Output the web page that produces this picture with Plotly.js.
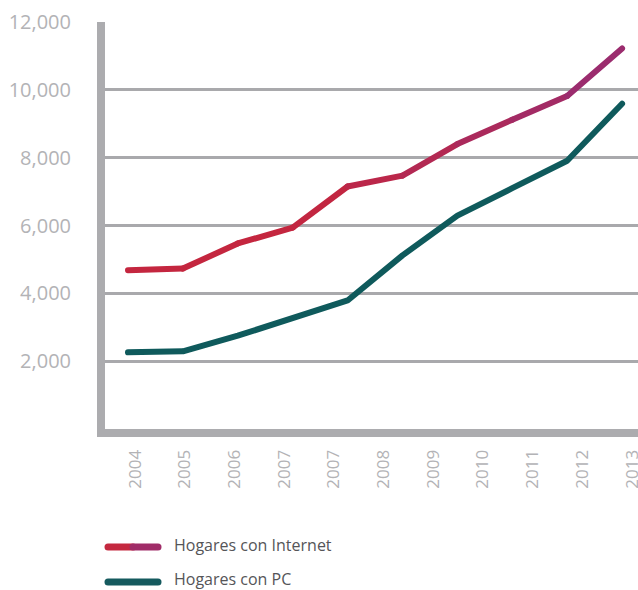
<!DOCTYPE html>
<html>
<head>
<meta charset="utf-8">
<script src="https://cdn.plot.ly/plotly-3.0.1.min.js"></script>
<style>
html,body{margin:0;padding:0;background:#fff;}
path.js-line{stroke-linejoin:round;stroke-linecap:round;}
.shapelayer path{stroke-linecap:round;}
</style>
</head>
<body>
<div id="chart" style="width:638px;height:590px;"></div>
<script>
// Data
var years = [2004, 2005, 2006, 2007, 2008, 2009, 2010, 2011, 2012, 2013];
var internet = [4680, 4730, 5470, 5940, 7150, 7470, 8400, 9120, 9820, 11220];
var pc = [2260, 2290, 2750, 3270, 3790, 5120, 6290, 7100, 7910, 9590];
var tickLabels = ['2004', '2005', '2006', '2007', '2007', '2008', '2009', '2010', '2011', '2012', '2013'];
var yTicks = [2000, 4000, 6000, 8000, 10000, 12000];
var seriesNames = ['Hogares con Internet', 'Hogares con PC'];

function mix(c1, c2, t) {
  var a = [parseInt(c1.substr(1,2),16), parseInt(c1.substr(3,2),16), parseInt(c1.substr(5,2),16)];
  var b = [parseInt(c2.substr(1,2),16), parseInt(c2.substr(3,2),16), parseInt(c2.substr(5,2),16)];
  return 'rgb(' + a.map(function(v,i){return Math.round(v + (b[i]-v)*t);}).join(',') + ')';
}

var redStart = '#c4263f', redEnd = '#9b2c6e';
var pcColor = '#0f5a5c';
var traces = [];
// internet line as gradient segments
for (var i = 0; i < years.length - 1; i++) {
  var t = i / (years.length - 2);
  t = Math.max(0, (t - 0.35) / 0.65);
  traces.push({
    x: [years[i], years[i+1]], y: [internet[i], internet[i+1]],
    xaxis: 'x2', yaxis: 'y', mode: 'lines', showlegend: false, hoverinfo: 'skip',
    line: {color: mix(redStart, redEnd, t), width: 6}
  });
}
traces.push({
  x: years, y: pc, xaxis: 'x2', yaxis: 'y', mode: 'lines', showlegend: false,
  name: seriesNames[1], line: {color: pcColor, width: 6}
});
// dummy trace for label axis
traces.push({x: [0, 10], y: [null, null], xaxis: 'x', yaxis: 'y', mode: 'lines', showlegend: false, hoverinfo: 'skip'});

var L = 105, R = 638, T = 22, B = 429;
var W = R - L, H = B - T;
function px(x){ return (x - L) / W; }
function py(y){ return 1 - (y - T) / H; }

var layout = {
  width: 638, height: 590,
  margin: {l: L, r: 0, t: T, b: 590 - B},
  paper_bgcolor: '#fff', plot_bgcolor: '#fff',
  showlegend: false,
  font: {family: 'Open Sans, sans-serif', color: '#b3b3b6'},
  xaxis: {
    range: [-0.604, 10.12],
    tickmode: 'array', tickvals: tickLabels.map(function(_, i){return i;}), ticktext: tickLabels,
    tickangle: -90, tickfont: {size: 17, color: '#b3b3b6'},
    ticklabeloverflow: 'allow',
    showgrid: false, zeroline: false,
    showline: true, linecolor: '#acacaf', linewidth: 8,
    ticks: '', ticklabelstandoff: 6
  },
  xaxis2: {
    overlaying: 'x', range: [2003.581, 2013.29], visible: false
  },
  yaxis: {
    range: [0, 12000],
    tickmode: 'array', tickvals: yTicks, ticktext: yTicks.map(function(v){return v.toLocaleString('en-US');}),
    tickfont: {size: 20, color: '#b3b3b6'},
    showgrid: true, gridcolor: '#a9a9ac', gridwidth: 3,
    zeroline: false,
    showline: true, linecolor: '#acacaf', linewidth: 8,
    ticks: '', ticklabelstandoff: 22
  },
  shapes: [
    {type: 'line', xref: 'paper', yref: 'paper', x0: px(108), x1: px(133), y0: py(547), y1: py(547), line: {color: '#c4283f', width: 7}},
    {type: 'line', xref: 'paper', yref: 'paper', x0: px(133), x1: px(158), y0: py(547), y1: py(547), line: {color: '#a02c68', width: 7}},
    {type: 'line', xref: 'paper', yref: 'paper', x0: px(108), x1: px(158), y0: py(582), y1: py(582), line: {color: '#155a5e', width: 7}}
  ],
  annotations: [
    {xref: 'paper', yref: 'paper', x: px(172), y: py(545), xanchor: 'left', yanchor: 'middle', showarrow: false,
     text: seriesNames[0], font: {size: 16, color: '#555558', family: 'Open Sans, sans-serif'}},
    {xref: 'paper', yref: 'paper', x: px(172), y: py(579), xanchor: 'left', yanchor: 'middle', showarrow: false,
     text: seriesNames[1], font: {size: 16, color: '#555558', family: 'Open Sans, sans-serif'}}
  ]
};

Plotly.newPlot('chart', traces, layout, {displayModeBar: false, staticPlot: true});
</script>
</body>
</html>
